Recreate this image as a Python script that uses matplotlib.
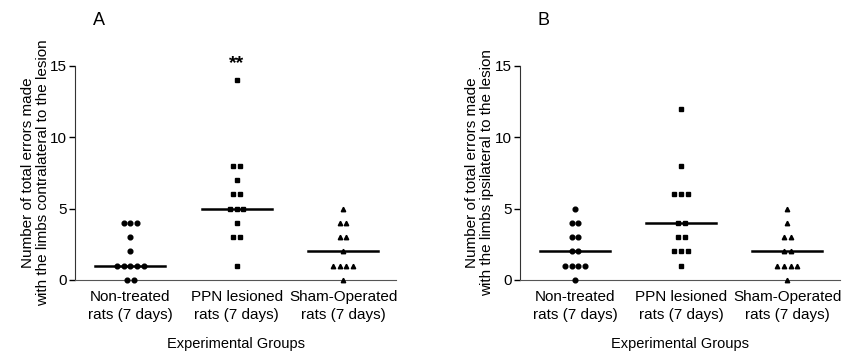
import numpy as np
import matplotlib
matplotlib.use("Agg")
import matplotlib.pyplot as plt

# ==========================================================
# Data
# ==========================================================

groups = ["Non-treated\nrats (7 days)", "PPN lesioned\nrats (7 days)", "Sham-Operated\nrats (7 days)"]

# Panel A: errors with limbs contralateral to the lesion
a_non_treated = [4, 4, 4, 3, 2, 1, 1, 1, 1, 1, 0, 0]
a_ppn = [14, 8, 8, 7, 6, 6, 5, 5, 5, 4, 3, 3, 1]
a_sham = [5, 4, 4, 3, 3, 2, 1, 1, 1, 1, 0]

# Panel B: errors with limbs ipsilateral to the lesion
b_non_treated = [5, 4, 4, 3, 3, 2, 2, 1, 1, 1, 1, 0]
b_ppn = [12, 8, 6, 6, 6, 4, 4, 3, 3, 2, 2, 2, 1]
b_sham = [5, 4, 3, 3, 2, 2, 1, 1, 1, 1, 0]

markers = ["o", "s", "^"]
y_ticks = [0, 5, 10, 15]

plt.rcParams["font.family"] = ["Liberation Sans", "DejaVu Sans"]
plt.rcParams["font.size"] = 10


def spread(values, center, step=0.063):
    # place equal values side by side, centred on the group position
    values = np.asarray(values)
    xs = np.zeros(len(values), dtype=float)
    for v in np.unique(values):
        idx = np.where(values == v)[0]
        n = len(idx)
        xs[idx] = center + (np.arange(n) - (n - 1) / 2) * step
    return xs


def draw_panel(ax, data, ylabel, letter):
    for i, vals in enumerate(data):
        xs = spread(vals, i)
        ax.plot(xs, vals, linestyle="none", marker=markers[i],
                markersize=3.4 if markers[i] != "^" else 3.2,
                color="black", clip_on=False, zorder=3)
        med = np.median(vals)
        ax.plot([i - 0.33, i + 0.33], [med, med], color="black",
                linewidth=1.8, zorder=2)

    ax.set_xlim(-0.52, 2.5)
    ax.set_ylim(0, 15)
    ax.set_yticks(y_ticks)
    ax.set_xticks(range(len(groups)))
    ax.set_xticklabels(groups, fontsize=11, linespacing=1.35)
    ax.tick_params(axis="x", length=0, pad=7)
    ax.tick_params(axis="y", length=4, width=1, pad=2, labelsize=11)
    ax.spines["top"].set_visible(False)
    ax.spines["right"].set_visible(False)
    ax.spines["left"].set_color("#333333")
    ax.spines["bottom"].set_color("#555555")
    ax.set_ylabel(ylabel, fontsize=11, labelpad=0, linespacing=1.1)
    ax.set_xlabel("Experimental Groups", fontsize=10.5, labelpad=11)
    ax.text(0.075, 1.21, letter, transform=ax.transAxes,
            fontsize=13, ha="center", va="center")


# ==========================================================
# Figure
# ==========================================================

fig = plt.figure(figsize=(8.48, 3.58), dpi=100)

ax1 = fig.add_axes([0.0884, 0.218, 0.379, 0.598])
ax2 = fig.add_axes([0.613, 0.218, 0.378, 0.598])

draw_panel(ax1, [a_non_treated, a_ppn, a_sham],
           "Number of total errors made\nwith the limbs contralateral to the lesion", "A")
draw_panel(ax2, [b_non_treated, b_ppn, b_sham],
           "Number of total errors made\nwith the limbs ipsilateral to the lesion", "B")

ax1.text(1, 14.55, "**", ha="center", va="bottom", fontsize=14, fontweight="bold")

fig.savefig("out.png", dpi=100)
plt.close(fig)
